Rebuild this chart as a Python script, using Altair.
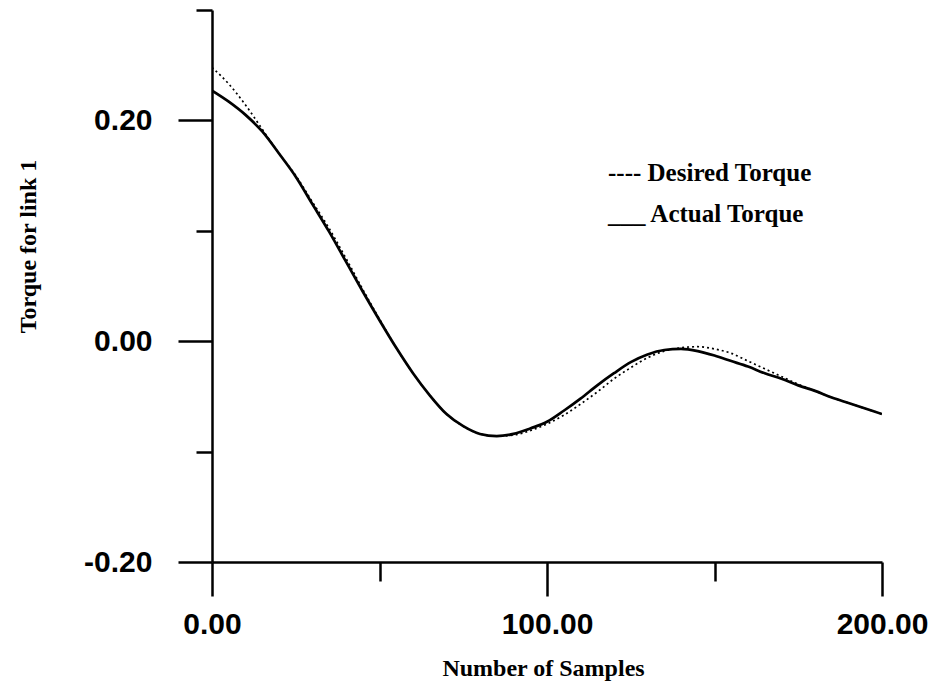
import altair as alt
import pandas as pd

samples = [0, 5, 10, 15, 20, 25, 30, 35, 40, 45, 50, 55, 60, 65, 70, 75, 80, 85, 90, 95,
           100, 105, 110, 115, 120, 125, 130, 135, 140, 145, 150, 155, 160, 165, 170, 175,
           180, 185, 190, 195, 200]

actual = [0.227, 0.217, 0.205, 0.190, 0.170, 0.149, 0.124, 0.099, 0.072, 0.045, 0.019,
          -0.006, -0.029, -0.049, -0.066, -0.077, -0.084, -0.086, -0.084, -0.079,
          -0.073, -0.063, -0.052, -0.040, -0.029, -0.019, -0.012, -0.008, -0.007, -0.009,
          -0.013, -0.018, -0.023, -0.029, -0.034, -0.040, -0.045, -0.051, -0.056, -0.061,
          -0.066]

desired = [0.248, 0.233, 0.214, 0.192, 0.170, 0.150, 0.126, 0.102, 0.075, 0.047, 0.020,
           -0.006, -0.029, -0.049, -0.066, -0.077, -0.084, -0.086, -0.085, -0.081,
           -0.075, -0.067, -0.057, -0.046, -0.034, -0.024, -0.015, -0.009, -0.006, -0.005,
           -0.007, -0.011, -0.018, -0.025, -0.032, -0.039, -0.045, -0.051, -0.056, -0.061,
           -0.066]

x_ticks = [0, 50, 100, 150, 200]
y_ticks = [-0.2, -0.1, 0.0, 0.1, 0.2, 0.3]
legend_labels = ["---- Desired Torque", "___ Actual Torque"]

df = pd.DataFrame({"Samples": samples, "Actual": actual, "Desired": desired})

serif = "Liberation Serif"
sans = "Liberation Sans"

x_enc = alt.X(
    "Samples:Q",
    scale=alt.Scale(domain=[0, 200], nice=False, zero=False),
    axis=alt.Axis(
        values=x_ticks,
        labelExpr="datum.value % 100 == 0 ? format(datum.value, '.2f') : ''",
        tickSize={"condition": {"test": "datum.value % 100 == 0", "value": 34}, "value": 19},
        tickWidth=2.5, tickColor="black",
        domainWidth=2.5, domainColor="black",
        labelFont=sans, labelFontWeight="bold", labelFontSize=30, labelColor="black",
        labelPadding=13, labelFlush=False,
        title="Number of Samples", titleFont=serif, titleFontWeight="bold",
        titleFontSize=24, titleColor="black",
        titleX=331, titleY=106, titleBaseline="middle", titleAnchor="middle",
        grid=False,
    ),
)

major_y = "(datum.value == 0.2 || datum.value == 0 || datum.value == -0.2)"
y_scale = alt.Scale(domain=[-0.2, 0.3], nice=False, zero=False)
y_axis = alt.Axis(
    values=y_ticks,
    labelExpr=major_y + " ? (datum.value < 0 ? '-' + format(-datum.value, '.2f') : format(datum.value, '.2f')) : ''",
    tickSize={"condition": {"test": major_y, "value": 34}, "value": 16},
    tickWidth=2.5, tickColor="black",
    domainWidth=2.5, domainColor="black",
    labelFont=sans, labelFontWeight="bold", labelFontSize=30, labelColor="black",
    labelPadding=26, labelFlush=False,
    title="Torque for link 1", titleFont=serif, titleFontWeight="bold",
    titleFontSize=24, titleColor="black",
    titleX=-184, titleY=236, titleBaseline="middle", titleAnchor="middle", titleAngle=-90,
    grid=False,
)

base = alt.Chart(df)

desired_line = base.mark_line(
    color="black", strokeWidth=1.7, strokeDash=[2, 3], interpolate="monotone", clip=True
).encode(x=x_enc, y=alt.Y("Desired:Q", scale=y_scale, axis=y_axis))

actual_line = base.mark_line(
    color="black", strokeWidth=2.7, interpolate="monotone", clip=True
).encode(x=x_enc, y=alt.Y("Actual:Q", scale=y_scale, axis=y_axis))

leg1 = alt.Chart(pd.DataFrame({"t": [legend_labels[0]]})).mark_text(
    font=serif, fontWeight="bold", fontSize=25, align="left", baseline="middle", color="black"
).encode(text="t:N", x=alt.value(396), y=alt.value(163))

leg2 = alt.Chart(pd.DataFrame({"t": [legend_labels[1]]})).mark_text(
    font=serif, fontWeight="bold", fontSize=25, align="left", baseline="middle", color="black"
).encode(text="t:N", x=alt.value(396), y=alt.value(204))

chart = alt.layer(desired_line, actual_line, leg1, leg2).properties(
    width=670, height=552,
    autosize=alt.AutoSizeParams(type="none"),
    padding={"left": 212, "top": 10, "right": 55, "bottom": 122},
    background="white",
).configure_view(stroke=None)

chart.save("out.html", embed_options={"renderer": "svg", "actions": False})
